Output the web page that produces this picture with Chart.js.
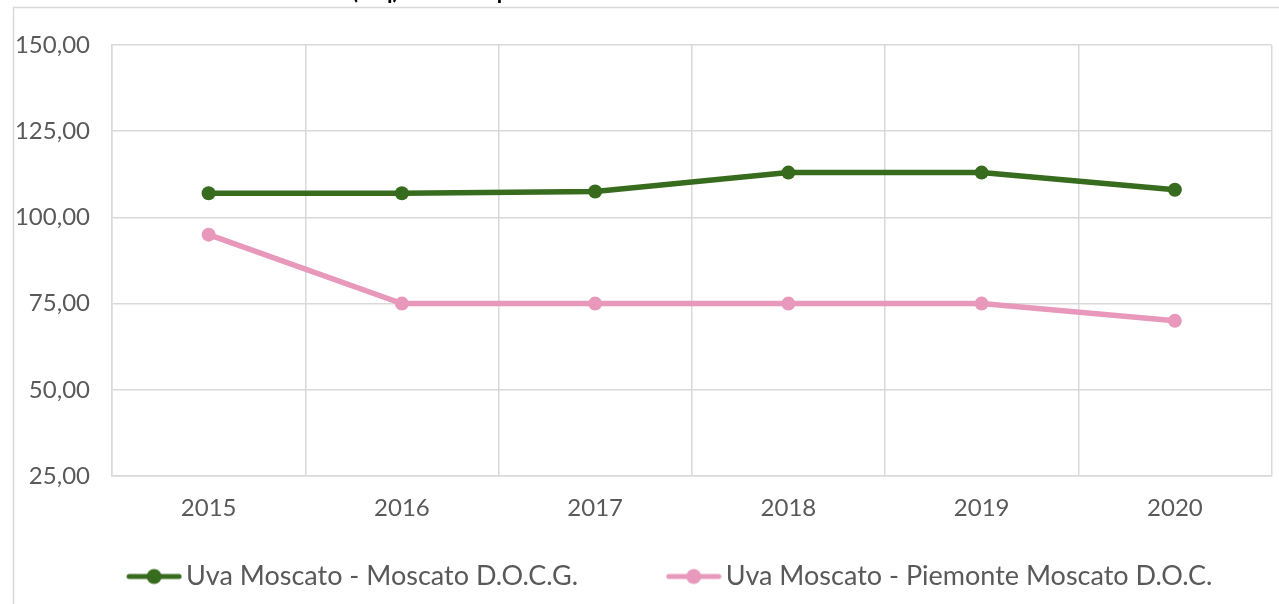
<!DOCTYPE html>
<html>
<head>
<meta charset="utf-8">
<script src="https://cdn.jsdelivr.net/npm/chart.js@4.4.0/dist/chart.umd.min.js"></script>
<style>
html, body { margin: 0; padding: 0; background: #fff; }
#wrap { width: 1279px; height: 604px; }
</style>
</head>
<body>
<div id="wrap"><canvas id="prezziChart"></canvas></div>
<script>
// dati
const anni = ['2015', '2016', '2017', '2018', '2019', '2020'];
const moscatoDocg = [107, 107, 107.5, 113, 113, 108];
const piemonteDoc = [95, 75, 75, 75, 75, 70];
const yTicks = [25, 50, 75, 100, 125, 150];
const titolo = 'Prezzi medi (€/q) delle uve prodotte';

const VERDE = '#376b1d';
const ROSA = '#e899bb';

Chart.defaults.font.family = 'Lato';
Chart.defaults.font.size = 24;
Chart.defaults.color = '#595959';

// simbolo legenda: linea + pallino
function marker(color) {
    const c = document.createElement('canvas');
    c.width = 56; c.height = 18;
    const g = c.getContext('2d');
    g.strokeStyle = color;
    g.lineWidth = 5;
    g.lineCap = 'round';
    g.beginPath(); g.moveTo(3, 9); g.lineTo(53, 9); g.stroke();
    g.fillStyle = color;
    g.beginPath(); g.arc(28, 9, 7.5, 0, Math.PI * 2); g.fill();
    return c;
}

const cornice = {
    id: 'cornice',
    afterLayout(chart) {
        // la legenda nell'originale e' spostata un po' a destra
        chart.legend.left += 31;
        chart.legend.right += 31;
    },
    beforeDraw(chart) {
        const ctx = chart.ctx;
        ctx.save();
        ctx.strokeStyle = '#d9d9d9';
        ctx.lineWidth = 1.5;
        ctx.strokeRect(13.5, 7.5, 1400, 700);
        // titolo tagliato in alto
        ctx.font = 'bold 22px Lato';
        ctx.fillStyle = '#000';
        ctx.textBaseline = 'alphabetic';
        const pre = ctx.measureText('Prezzi medi ').width;
        ctx.fillText(titolo, 352 - pre, -1);
        ctx.restore();
    }
};

const ctx = document.getElementById('prezziChart').getContext('2d');
const prezziChart = new Chart(ctx, {
    type: 'line',
    data: {
        labels: anni,
        datasets: [
            {
                label: 'Uva Moscato - Moscato D.O.C.G.',
                data: moscatoDocg,
                borderColor: VERDE,
                backgroundColor: VERDE,
                borderWidth: 5.5,
                pointRadius: 7,
                pointHoverRadius: 7.5,
                pointBorderWidth: 0,
                tension: 0
            },
            {
                label: 'Uva Moscato - Piemonte Moscato D.O.C.',
                data: piemonteDoc,
                borderColor: ROSA,
                backgroundColor: ROSA,
                borderWidth: 5.5,
                pointRadius: 7,
                pointHoverRadius: 7.5,
                pointBorderWidth: 0,
                tension: 0
            }
        ]
    },
    options: {
        responsive: true,
        maintainAspectRatio: false,
        animation: false,
        layout: {
            padding: { left: 13, right: 6, top: 45, bottom: 4 }
        },
        scales: {
            x: {
                offset: true,
                grid: { color: '#d9d9d9', lineWidth: 1.5, offset: true, drawTicks: false },
                border: { color: '#d9d9d9', width: 1.5 },
                ticks: { padding: 18, maxRotation: 0 },
                afterFit: function(scale) { scale.height = 71; }
            },
            y: {
                min: 25,
                max: 150,
                grid: { color: '#d9d9d9', lineWidth: 1.5, drawTicks: false },
                border: { color: '#d9d9d9', width: 1.5 },
                ticks: {
                    padding: 22,
                    callback: function(v) { return v.toFixed(2).replace('.', ','); }
                },
                afterBuildTicks: function(scale) {
                    scale.ticks = yTicks.map(v => ({ value: v }));
                },
                afterFit: function(scale) { scale.width = 99; }
            }
        },
        plugins: {
            legend: {
                display: true,
                position: 'bottom',
                labels: {
                    usePointStyle: true,
                    pointStyleWidth: 37,
                    padding: 16,
                    color: '#595959',
                    font: { size: 27 },
                    generateLabels: function(chart) {
                        const items = Chart.defaults.plugins.legend.labels.generateLabels(chart);
                        items.forEach((it, i) => {
                            it.pointStyle = marker(chart.data.datasets[i].borderColor);
                            if (i === 0) it.text = it.text + '\u2003'.repeat(4);
                        });
                        return items;
                    }
                }
            },
            tooltip: { enabled: true }
        }
    },
    plugins: [cornice]
});
</script>
</body>
</html>
